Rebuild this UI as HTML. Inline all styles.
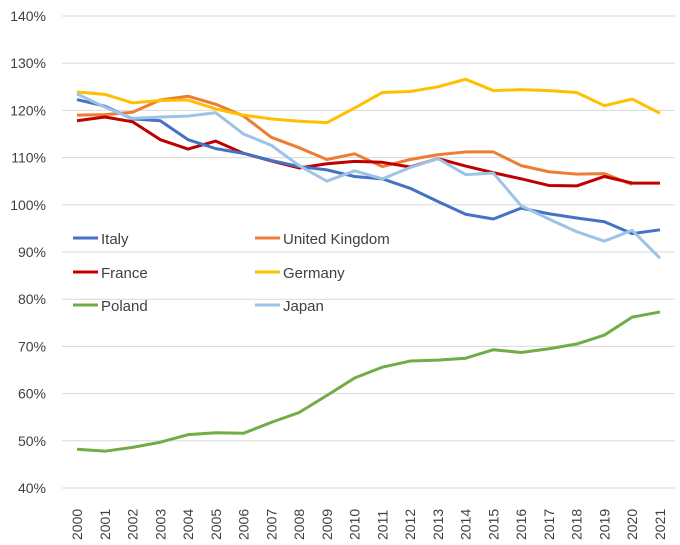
<!DOCTYPE html><html><head><style>body{margin:0;background:#fff}text{font-family:"Liberation Sans",sans-serif;fill:#404040}</style></head><body>
<svg width="680" height="540" xmlns="http://www.w3.org/2000/svg">
<g id="grid" stroke="#d9d9d9" stroke-width="1"></g>
<g id="yl" font-size="14" text-anchor="end"></g>
<g id="xl" font-size="14"></g>
<g id="lines" fill="none" stroke-width="3" stroke-linejoin="round"></g>
<g font-size="15">
<line x1="73" y1="238" x2="98" y2="238" stroke="#4472c4" stroke-width="3"/><text x="101" y="244">Italy</text>
<line x1="255" y1="238" x2="280" y2="238" stroke="#ed7d31" stroke-width="3"/><text x="283" y="244">United Kingdom</text>
<line x1="73" y1="272" x2="98" y2="272" stroke="#c00000" stroke-width="3"/><text x="101" y="278">France</text>
<line x1="255" y1="272" x2="280" y2="272" stroke="#ffc000" stroke-width="3"/><text x="283" y="278">Germany</text>
<line x1="73" y1="305" x2="98" y2="305" stroke="#70ad47" stroke-width="3"/><text x="101" y="311">Poland</text>
<line x1="255" y1="305" x2="280" y2="305" stroke="#9dc3e6" stroke-width="3"/><text x="283" y="311">Japan</text>
</g>
</svg>
<script>
const ns="http://www.w3.org/2000/svg";
const Y=v=>16+(140-v)*4.72, X=i=>77+i*27.76;
const g=document.getElementById('grid'),yl=document.getElementById('yl'),xl=document.getElementById('xl'),L=document.getElementById('lines');
function el(p,t,a,txt){const e=document.createElementNS(ns,t);for(const k in a)e.setAttribute(k,a[k]);if(txt)e.textContent=txt;p.appendChild(e);return e;}
for(let v=40;v<=140;v+=10){el(g,'line',{x1:62,x2:675,y1:Y(v),y2:Y(v)});el(yl,'text',{x:46,y:Y(v)+5},v+'%');}
for(let i=0;i<22;i++){const x=X(i)+5;el(xl,'text',{x:x,y:540,transform:`rotate(-90 ${x} 540)`},String(2000+i));}
const S=[
["#70ad47",[48.2,47.8,48.6,49.7,51.3,51.7,51.6,53.9,56.0,59.6,63.3,65.6,66.9,67.1,67.5,69.3,68.7,69.5,70.5,72.4,76.2,77.3]],
["#ed7d31",[119.0,119.1,119.6,122.2,123.0,121.3,118.8,114.3,112.1,109.6,110.8,108.1,109.6,110.6,111.2,111.2,108.3,107.0,106.5,106.6,104.3]],
["#c00000",[117.8,118.6,117.6,113.8,111.8,113.5,110.9,109.3,107.8,108.7,109.2,109.0,108.0,109.8,108.2,106.8,105.5,104.1,104.0,106.0,104.6,104.6]],
["#4472c4",[122.3,120.9,118.2,117.8,113.8,111.9,110.9,109.4,108.1,107.4,106.0,105.5,103.5,100.7,98.0,97.0,99.3,98.1,97.2,96.4,93.9,94.7]],
["#ffc000",[123.9,123.4,121.6,122.1,122.2,120.3,119.0,118.2,117.7,117.4,120.5,123.8,124.0,125.0,126.6,124.2,124.4,124.2,123.8,121.0,122.4,119.4]],
["#9dc3e6",[123.5,120.7,118.3,118.6,118.8,119.5,115.0,112.6,108.3,105.0,107.2,105.5,107.9,109.8,106.4,106.7,99.8,97.0,94.3,92.3,94.6,88.7]]];
for(const [c,d] of S)el(L,'polyline',{stroke:c,points:d.map((v,i)=>X(i)+','+Y(v)).join(' ')});
</script></body></html>
